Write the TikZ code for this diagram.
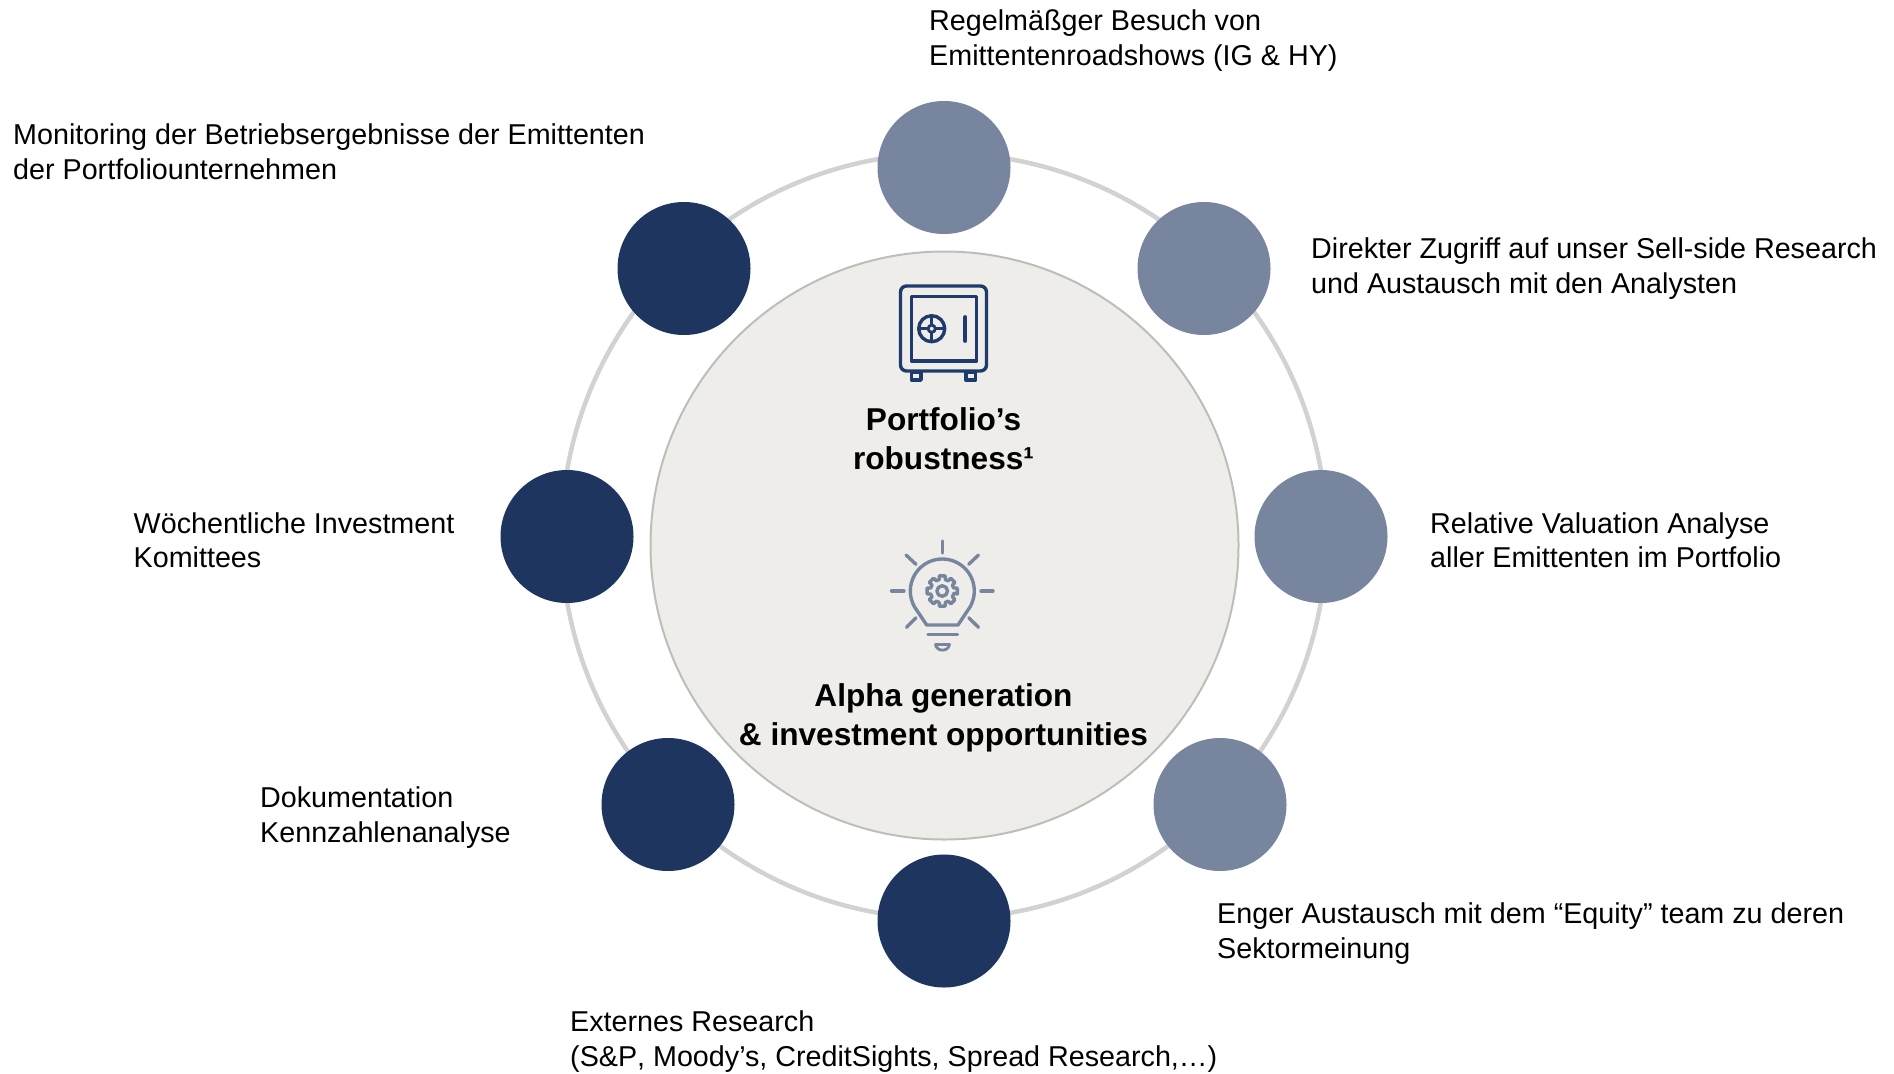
\documentclass[tikz,border=0pt]{standalone}
\usepackage{fontspec}
\setmainfont{Liberation Sans}
\definecolor{navy}{HTML}{1E3560}
\definecolor{slate}{HTML}{78859F}
\definecolor{ringgray}{HTML}{D2D2D2}
\definecolor{hubfill}{HTML}{EEEDEA}
\definecolor{hubline}{HTML}{BDBDBA}
\definecolor{iconnavy}{HTML}{1F3B6D}
\tikzset{
  px/.style={x=1pt,y=-1pt},
  dot/.style={circle,minimum size=133pt,inner sep=0pt,draw=none},
  darkdot/.style={dot,fill=navy},
  lightdot/.style={dot,fill=slate},
  lbl/.style={anchor=west,align=left,inner sep=0pt,font=\fontsize{28.7}{34.6}\selectfont},
  hubtxt/.style={anchor=center,align=center,inner sep=0pt,font=\fontsize{31.6}{38.6}\selectfont\bfseries},
  safeicon/.style={draw=iconnavy,line width=3.4pt,line join=round},
  bulbicon/.style={draw=slate,line width=3.4pt,line cap=round,line join=round}
}
\begin{document}
\begin{tikzpicture}[px]
\useasboundingbox (0,0) rectangle (1894,1073);
\node[circle,draw=ringgray,line width=4.5pt,minimum size=765pt,inner sep=0pt] (ring) at (944,536) {};
\node[circle,draw=hubline,line width=2pt,fill=hubfill,minimum size=588pt,inner sep=0pt] (hub) at (944.5,545.5) {};
\node[lightdot] (n1) at (944,167.5) {};
\node[lightdot] (n2) at (1204,268.5) {};
\node[lightdot] (n3) at (1321,536.5) {};
\node[lightdot] (n4) at (1220,804.5) {};
\node[darkdot] (n5) at (944,921) {};
\node[darkdot] (n6) at (668,804.5) {};
\node[darkdot] (n7) at (567,536.5) {};
\node[darkdot] (n8) at (684,268.5) {};
% safe icon
\draw[safeicon,rounded corners=6pt] (900.5,286) rectangle (986.5,371);
\draw[safeicon] (911.5,296.5) rectangle (976.5,361);
\draw[safeicon] (911.5,372) rectangle (921,380);
\draw[safeicon] (966,372) rectangle (975.5,380);
\draw[safeicon] (931.7,328.7) circle (13pt);
\draw[safeicon,line width=2.8pt] (931.7,328.7) circle (3.6pt);
\draw[safeicon,line width=3pt] (931.7,316) -- (931.7,324.8) (931.7,332.6) -- (931.7,341) (919,328.7) -- (927.8,328.7) (935.6,328.7) -- (944.5,328.7);
\draw[safeicon,line cap=round,line width=3.8pt] (965.3,317) -- (965.3,341);
% bulb icon
\draw[bulbicon] (942.3,541) -- (942.3,553);
\draw[bulbicon] (981,591) -- (993,591);
\draw[bulbicon] (891.5,591) -- (904,591);
\draw[bulbicon] (906,555) -- (916,564.3);
\draw[bulbicon] (978.5,555) -- (968.7,564.3);
\draw[bulbicon] (916,617.7) -- (906.5,627.3);
\draw[bulbicon] (968.7,617.7) -- (978.5,627.3);
\draw[bulbicon] (926.7,625) -- (958,625) -- (970,607) arc[start angle=-30,end angle=210,radius=32pt] -- cycle;
\draw[bulbicon] (928,634.7) -- (957.5,634.7);
\draw[bulbicon,line width=2.8pt] (935.5,644.5) -- (949.5,644.5) .. controls (948.5,652) and (936.5,652) .. (935.5,644.5) -- cycle;
\draw[bulbicon] (942.2,591) circle (5.3pt);
\begin{scope}[shift={(942.2,591)}]
\draw[bulbicon] (-11:11.8pt)
 \foreach \a in {0,45,...,315}{ -- (\a-11:15.4pt) -- (\a+11:15.4pt) -- (\a+15:11.8pt) -- (\a+30:11.8pt) } -- cycle;
\end{scope}
% labels
\node[lbl] (t1) at (929,40.5) {Regelmäßger Besuch von\\Emittentenroadshows (IG \& HY)};
\node[lbl] (t2) at (13,151.5) {Monitoring der Betriebsergebnisse der Emittenten\\der Portfoliounternehmen};
\node[lbl] (t3) at (1311,268.5) {Direkter Zugriff auf unser Sell-side Research\\und Austausch mit den Analysten};
\node[lbl] (t4) at (1430,540.2) {Relative Valuation Analyse\\aller Emittenten im Portfolio};
\node[lbl] (t5) at (133.5,540.2) {Wöchentliche Investment\\Komittees};
\node[lbl] (t6) at (260,817.3) {Dokumentation\\Kennzahlenanalyse};
\node[lbl] (t7) at (1217,933.5) {Enger Austausch mit dem “Equity” team zu deren\\Sektormeinung};
\node[lbl] (t8) at (570,1041.5) {Externes Research\\(S\&P\kern0pt, Moody’s, CreditSights, Spread Research,…)};
\node[hubtxt] (h1) at (943.5,438.5) {Portfolio’s\\robustness¹};
\node[hubtxt] (h2) at (943.5,718) {Alpha generation\\\& investment opportunities};
\end{tikzpicture}
\end{document}
